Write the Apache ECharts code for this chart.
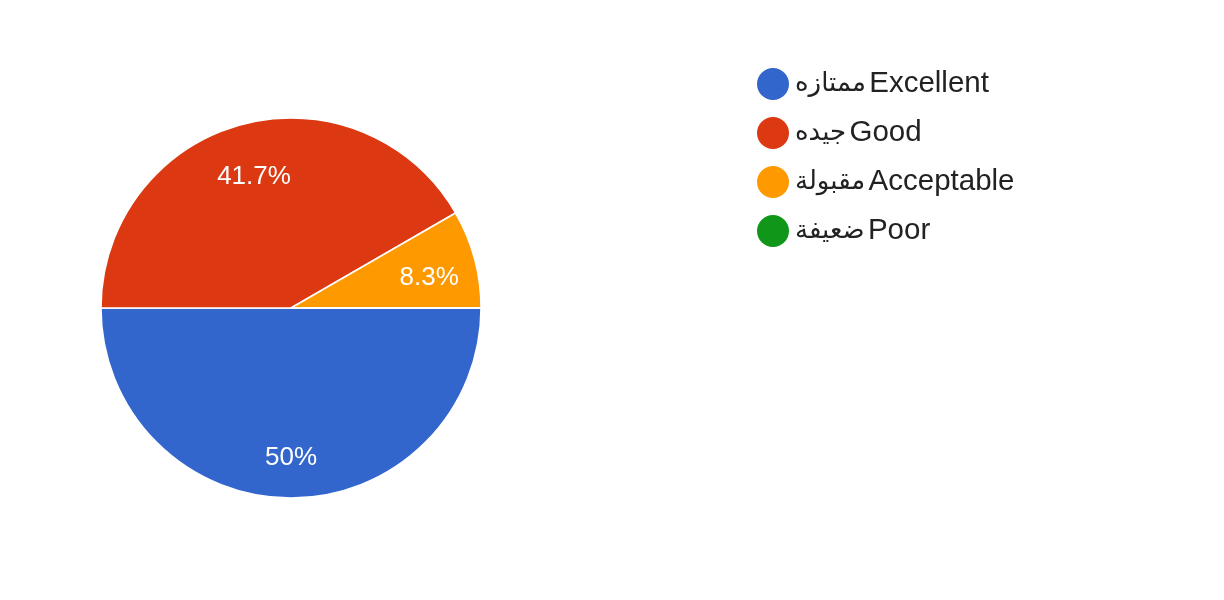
<!DOCTYPE html>
<html>
<head>
<meta charset="utf-8">
<script src="https://cdn.jsdelivr.net/npm/echarts@6/dist/echarts.min.js"></script>
<style>html,body{margin:0;padding:0;background:#fff;}#c{width:1224px;height:600px;}</style>
</head>
<body>
<div id="c"></div>
<script>
const arabicNames = ['ممتازه', 'جيده', 'مقبولة', 'ضعيفة'];
const englishNames = ['Excellent', 'Good', 'Acceptable', 'Poor'];
const values = [6, 5, 1, 0];
const colors = ['#3366cc', '#dc3912', '#ff9900', '#109618'];

const categories = arabicNames.map((a, i) => a + ' ' + englishNames[i]);
const data = categories.map((name, i) => ({ name, value: values[i] }));
const font = '"Liberation Sans", Arial, "DejaVu Sans", sans-serif';

const chart = echarts.init(document.getElementById('c'), null, { renderer: 'canvas' });
chart.setOption({
  animation: false,
  color: colors,
  legend: {
    orient: 'vertical',
    left: 750,
    top: 61,
    icon: 'circle',
    itemWidth: 34,
    itemHeight: 34,
    itemGap: 13,
    formatter: name => {
      const i = categories.indexOf(name);
      return '{ar|' + arabicNames[i] + '} {en|' + englishNames[i] + '}';
    },
    textStyle: {
      fontFamily: font, color: '#222222',
      rich: {
        ar: { fontFamily: font, fontSize: 26, color: '#222222' },
        en: { fontFamily: font, fontSize: 29.5, color: '#222222' }
      }
    },
    data: categories
  },
  series: [
    {
      type: 'pie',
      center: [291, 308],
      radius: [0, 190],
      startAngle: 0,
      clockwise: true,
      silent: true,
      label: { show: false },
      labelLine: { show: false },
      itemStyle: { borderColor: '#ffffff', borderWidth: 1.5 },
      data: data
    },
    {
      type: 'pie',
      center: [291, 308],
      radius: [90, 190],
      startAngle: 0,
      clockwise: true,
      silent: true,
      legendHoverLink: false,
      percentPrecision: 1,
      itemStyle: { color: 'rgba(0,0,0,0)' },
      label: {
        show: true,
        position: 'inside',
        color: '#ffffff',
        fontFamily: font,
        fontSize: 26,
        offset: [0, 7],
        formatter: p => p.value > 0 ? p.percent + '%' : ''
      },
      labelLine: { show: false },
      data: data
    }
  ]
});
</script>
</body>
</html>
